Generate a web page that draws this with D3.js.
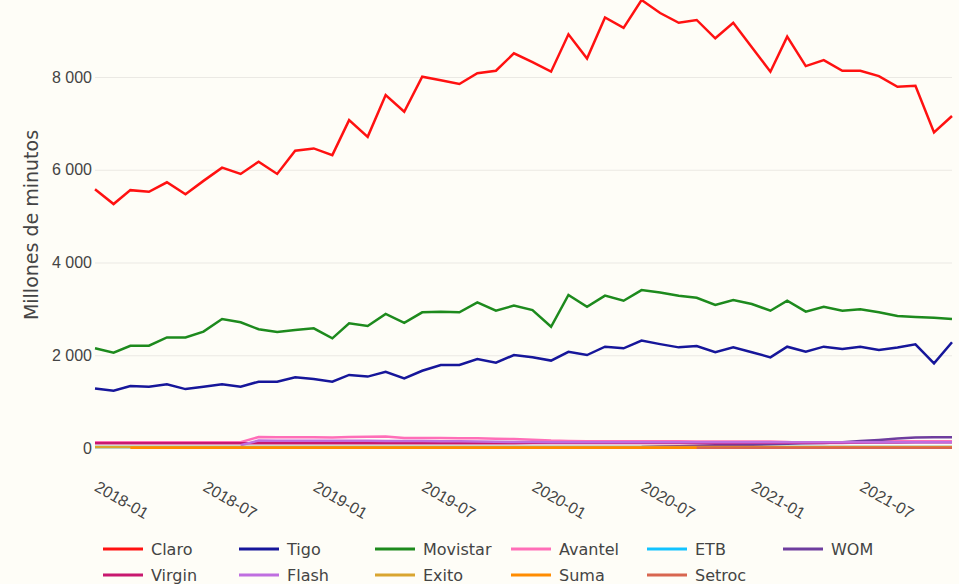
<!DOCTYPE html>
<html>
<head>
<meta charset="utf-8">
<script src="https://cdn.jsdelivr.net/npm/d3@7"></script>
<style>
  body { margin: 0; background: #fefdf7; }
  svg { display: block; font-family: Verdana, "DejaVu Sans", sans-serif; }
</style>
</head>
<body>
<div id="chart"></div>
<script>
// months, 2018-01 .. 2021-12
const months = [
  '2018-01','2018-02','2018-03','2018-04','2018-05','2018-06','2018-07','2018-08','2018-09','2018-10','2018-11','2018-12',
  '2019-01','2019-02','2019-03','2019-04','2019-05','2019-06','2019-07','2019-08','2019-09','2019-10','2019-11','2019-12',
  '2020-01','2020-02','2020-03','2020-04','2020-05','2020-06','2020-07','2020-08','2020-09','2020-10','2020-11','2020-12',
  '2021-01','2021-02','2021-03','2021-04','2021-05','2021-06','2021-07','2021-08','2021-09','2021-10','2021-11','2021-12'
];

const claro = [5580,5260,5560,5525,5730,5470,5760,6045,5910,6175,5910,6410,6460,6315,7070,6710,7610,7250,8005,7930,7850,8080,8135,8510,
  8320,8115,8920,8400,9285,9060,9660,9380,9170,9230,8835,9170,8640,8115,8870,8235,8365,8135,8135,8020,7790,7810,6805,7160];
const tigo = [1285,1235,1335,1320,1375,1270,1320,1375,1320,1430,1430,1525,1490,1430,1575,1540,1645,1500,1665,1790,1790,1920,1840,2005,
  1955,1885,2075,2005,2185,2150,2315,2240,2170,2200,2065,2170,2065,1955,2185,2075,2185,2135,2185,2115,2165,2235,1825,2280];
const movistar = [2150,2055,2205,2205,2385,2385,2510,2780,2710,2560,2500,2545,2580,2365,2690,2630,2890,2700,2925,2940,2925,3140,2960,3070,
  2975,2615,3300,3045,3285,3175,3405,3355,3285,3240,3085,3190,3105,2960,3175,2940,3045,2960,2990,2925,2845,2825,2810,2780];
const avantel = [125,125,125,125,125,125,125,125,125,237,234,232,230,228,235,245,250,215,215,215,212,208,200,195,
  180,160,150,145,145,145,145,145,145,140,140,140,140,140,130,110,108,110,120,140,145,145,145,145];
const etb = [20,20,20,20,20,20,20,20,20,20,20,20,20,20,20,20,20,20,20,20,20,20,20,20,
  20,20,20,20,20,20,20,20,20,20,20,20,20,20,20,20,20,20,20,20,20,20,20,20];
const wom = [null,null,null,null,null,null,null,null,null,null,null,null,null,null,null,null,null,null,null,null,null,null,null,null,
  null,null,null,null,null,null,20,30,40,50,60,65,70,80,90,100,110,125,150,175,205,225,232,232];
const virgin = [105,105,105,105,105,105,105,105,105,105,105,105,105,105,105,105,105,105,105,105,105,105,105,105,
  110,110,110,110,110,110,110,110,110,110,110,110,112,112,115,115,115,118,120,120,120,122,122,122];
const flash = [null,null,null,null,null,null,null,null,60,160,158,157,157,155,155,155,152,150,150,148,145,140,135,130,
  128,125,125,125,125,125,125,125,125,125,125,125,125,125,125,125,125,125,125,125,125,125,125,125];
const exito = [20,20,20,20,20,20,20,20,20,20,20,20,20,20,20,20,20,20,20,20,20,20,20,20,
  20,20,20,20,20,20,20,20,20,20,20,20,20,20,20,20,20,20,20,20,20,20,20,20];
const suma = [null,null,8,8,8,8,8,8,8,8,8,8,8,8,8,8,8,8,8,8,8,8,8,8,
  8,8,8,8,8,8,8,8,8,8,8,8,8,8,8,8,8,8,8,8,8,8,8,8];
const setroc = [null,null,null,null,null,null,null,null,null,null,null,null,null,null,null,null,null,null,null,null,null,null,null,null,
  null,null,null,null,null,null,null,null,null,5,5,5,5,5,5,5,5,5,5,5,5,5,5,5];

const seriesNames = ['Claro','Tigo','Movistar','Avantel','ETB','WOM','Virgin','Flash','Exito','Suma','Setroc'];
const seriesValues = [claro, tigo, movistar, avantel, etb, wom, virgin, flash, exito, suma, setroc];
const seriesColors = ['#ff1111','#16169a','#1d8a1d','#ff6eb8','#12c3ff','#6e3d9e','#c8186f','#bf6ee0','#d9a530','#ff8c00','#d86650'];

const yTicks = [0, 2000, 4000, 6000, 8000];
const xTickLabels = ['2018-01','2018-07','2019-01','2019-07','2020-01','2020-07','2021-01','2021-07'];
const yTitle = 'Millones de minutos';

const W = 959, H = 584;
const margin = { left: 95, right: 7, top: 77 };
const parse = d3.timeParse('%Y-%m');
const dates = months.map(parse);

const x = d3.scaleTime()
  .domain(d3.extent(dates))
  .range([margin.left, W - margin.right]);
const y = d3.scaleLinear()
  .domain([0, 8000])
  .range([448, margin.top]);

const svg = d3.select('#chart')
  .append('svg')
  .attr('width', W)
  .attr('height', H);

svg.append('rect')
  .attr('width', W)
  .attr('height', H)
  .attr('fill', '#fefdf7');

const fmt = d3.formatLocale({ decimal: ',', thousands: ' ', grouping: [3], currency: ['', ''] }).format(',');

// y axis + grid
const yAxis = svg.append('g')
  .attr('transform', `translate(${margin.left},0)`)
  .call(d3.axisLeft(y)
    .tickValues(yTicks)
    .tickFormat(fmt)
    .tickSize(-(W - margin.right - margin.left))
    .tickPadding(3));
yAxis.select('.domain').remove();
yAxis.selectAll('.tick line')
  .attr('stroke', '#ebe9e4')
  .attr('stroke-width', 1);
yAxis.selectAll('.tick text')
  .attr('fill', '#444')
  .style('font-size', '16px');

// x axis
const xAxis = svg.append('g')
  .attr('transform', `translate(0,448)`)
  .call(d3.axisBottom(x)
    .tickValues(xTickLabels.map(parse))
    .tickFormat(d3.timeFormat('%Y-%m'))
    .tickSize(0));
xAxis.select('.domain').remove();
xAxis.selectAll('.tick text')
  .attr('fill', '#444')
  .style('font-size', '16px')
  .attr('text-anchor', 'start')
  .attr('y', 0)
  .attr('dy', 0)
  .attr('transform', 'translate(-2,42) rotate(30)');

// axis title
svg.append('text')
  .attr('transform', 'translate(38,225) rotate(-90)')
  .attr('text-anchor', 'middle')
  .attr('fill', '#444')
  .style('font-size', '19px')
  .text(yTitle);

// lines
const line = d3.line()
  .defined(d => d.v != null)
  .x(d => x(d.date))
  .y(d => y(d.v));

seriesNames.forEach((name, k) => {
  const pts = dates.map((date, i) => ({ date, v: seriesValues[k][i] }));
  svg.append('path')
    .datum(pts)
    .attr('fill', 'none')
    .attr('stroke', seriesColors[k])
    .attr('stroke-width', 2.5)
    .attr('d', line);
});

// legend
const legend = svg.append('g');
seriesNames.forEach((name, k) => {
  const col = k % 6, row = Math.floor(k / 6);
  const lx = 103 + col * 136, ly = 549 + row * 26;
  const g = legend.append('g').attr('transform', `translate(${lx},${ly})`);
  g.append('line')
    .attr('x1', 0).attr('x2', 40)
    .attr('stroke', seriesColors[k])
    .attr('stroke-width', 3);
  g.append('text')
    .attr('x', 48)
    .attr('dy', '0.35em')
    .attr('fill', '#444')
    .style('font-size', '16px')
    .text(name);
});
</script>
</body>
</html>
